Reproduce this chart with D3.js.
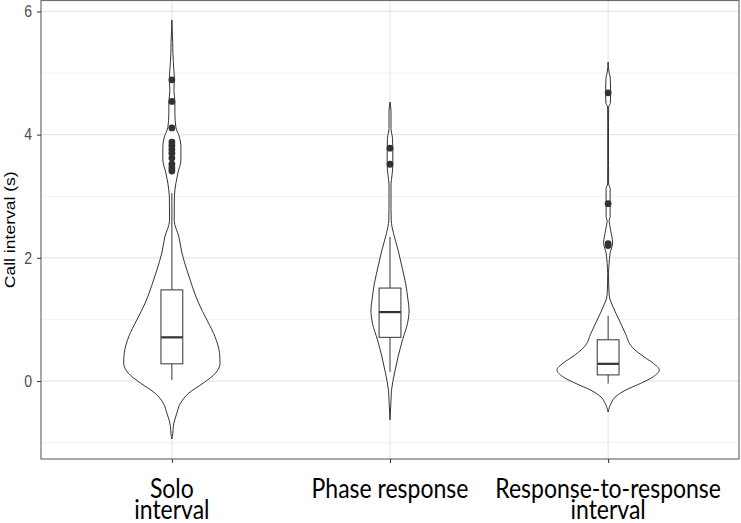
<!DOCTYPE html>
<html>
<head>
<meta charset="utf-8">
<script src="https://cdn.jsdelivr.net/npm/d3@7"></script>
<style>
  body { margin: 0; background: #fff; }
</style>
</head>
<body>
<div id="chart"></div>
<script>
// categories and axis ticks
const categories = ["Solo interval", "Phase response", "Response-to-response interval"];
const labelLines = [["Solo", "interval"], ["Phase response"], ["Response-to-response", "interval"]];
const yTicks = [0, 2, 4, 6];
const yMinorTicks = [-1, 1, 3, 5];

// violin outlines: value (s) and relative half width
const soloValues  = [5.86, 5.5, 5.32, 5.05, 4.89, 4.72, 4.53, 4.35, 4.12, 3.96, 3.8, 3.59, 3.38, 3.21, 2.99, 2.61, 2.34, 2.08, 1.8, 1.53, 1.27, 0.99, 0.72, 0.45, 0.29, 0.13, -0.03, -0.2, -0.36, -0.52, -0.68, -0.9, -0.94];
const soloDensity = [0, 0.008, 0.01, 0.02, 0.025, 0.02, 0.03, 0.03, 0.04, 0.075, 0.09, 0.09, 0.06, 0.04, 0.025, 0.023, 0.07, 0.1, 0.15, 0.205, 0.265, 0.35, 0.43, 0.475, 0.48, 0.435, 0.315, 0.165, 0.085, 0.05, 0.02, 0.005, 0];

const phaseValues  = [4.53, 4.37, 4.1, 3.94, 3.78, 3.52, 3.34, 3.2, 2.8, 2.61, 2.4, 2.13, 1.85, 1.59, 1.31, 1.15, 0.94, 0.67, 0.39, 0.13, -0.15, -0.31, -0.63];
const phaseDensity = [0, 0.01, 0.01, 0.025, 0.028, 0.028, 0.02, 0.01, 0.01, 0.012, 0.035, 0.08, 0.12, 0.155, 0.18, 0.19, 0.175, 0.125, 0.08, 0.045, 0.015, 0.01, 0];

const responseValues  = [5.18, 5.0, 4.94, 4.84, 4.68, 4.51, 4.45, 4.2, 3.5, 3.2, 3.13, 2.99, 2.66, 2.61, 2.45, 2.24, 2.08, 1.91, 1.75, 1.4, 1.2, 0.99, 0.78, 0.55, 0.39, 0.29, 0.18, 0.07, -0.04, -0.15, -0.26, -0.36, -0.5];
const responseDensity = [0, 0.01, 0.02, 0.023, 0.025, 0.022, 0.005, 0.004, 0.004, 0.005, 0.02, 0.02, 0.02, 0.01, 0.025, 0.045, 0.02, 0.01, 0.004, 0.01, 0.05, 0.11, 0.17, 0.24, 0.36, 0.45, 0.51, 0.45, 0.32, 0.17, 0.07, 0.03, 0];

// box stats: lower whisker, q1, median, q3, upper whisker
const soloBox     = [0.02, 0.28, 0.71, 1.48, 3.05];
const phaseBox    = [0.15, 0.71, 1.12, 1.51, 2.34];
const responseBox = [-0.04, 0.1, 0.28, 0.67, 1.06];

// outlier points
const soloOutliers     = [4.89, 4.54, 4.11, 3.88, 3.82, 3.76, 3.7, 3.62, 3.52, 3.46, 3.41];
const phaseOutliers    = [3.78, 3.52];
const responseOutliers = [4.68, 2.88, 2.23, 2.2];

const groups = [
    {name: categories[0], values: soloValues, density: soloDensity, box: soloBox, outliers: soloOutliers},
    {name: categories[1], values: phaseValues, density: phaseDensity, box: phaseBox, outliers: phaseOutliers},
    {name: categories[2], values: responseValues, density: responseDensity, box: responseBox, outliers: responseOutliers}
];

const width = 741, height = 523;
const panel = {left: 41, top: 0.5, right: 739, bottom: 459};
const ink = "#333333";
// the original picture is a bit taller than wide, so text gets stretched too
const stretch = 1.17;

const svg = d3.select("#chart").append("svg")
    .attr("width", width)
    .attr("height", height);

// scales
const x = d3.scalePoint()
    .domain(categories)
    .range([panel.left, panel.right])
    .padding(0.6);

const y = d3.scaleLinear()
    .domain([-1.265, 6.178])
    .range([panel.bottom, panel.top]);

const w = d3.scaleLinear()
    .domain([0, 1])
    .range([0, x.step() * 0.46]);

// grid lines
svg.append("g").selectAll("line")
    .data(yMinorTicks)
    .join("line")
    .attr("x1", panel.left).attr("x2", panel.right)
    .attr("y1", d => y(d)).attr("y2", d => y(d))
    .attr("stroke", "#f0f0f0").attr("stroke-width", 1);

svg.append("g").selectAll("line")
    .data(yTicks)
    .join("line")
    .attr("x1", panel.left).attr("x2", panel.right)
    .attr("y1", d => y(d)).attr("y2", d => y(d))
    .attr("stroke", "#e6e6e6").attr("stroke-width", 1.2);

svg.append("g").selectAll("line")
    .data(categories)
    .join("line")
    .attr("x1", d => x(d)).attr("x2", d => x(d))
    .attr("y1", panel.top).attr("y2", panel.bottom)
    .attr("stroke", "#e6e6e6").attr("stroke-width", 1.2);

// violins
const area = d3.area()
    .curve(d3.curveMonotoneY);

groups.forEach(g => {
    const cx = x(g.name);
    const pts = g.values.map((v, i) => [v, g.density[i]]);

    area.y(d => y(d[0]))
        .x0(d => cx - w(d[1]))
        .x1(d => cx + w(d[1]));

    svg.append("path")
        .datum(pts)
        .attr("d", area)
        .attr("fill", "#fff")
        .attr("stroke", ink)
        .attr("stroke-width", 1);

    // box plot
    const bw = x.step() * 0.1;
    const [lo, q1, med, q3, hi] = g.box;

    svg.append("line")
        .attr("x1", cx).attr("x2", cx)
        .attr("y1", y(q3)).attr("y2", y(hi))
        .attr("stroke", ink).attr("stroke-width", 1);

    svg.append("line")
        .attr("x1", cx).attr("x2", cx)
        .attr("y1", y(q1)).attr("y2", y(lo))
        .attr("stroke", ink).attr("stroke-width", 1);

    svg.append("rect")
        .attr("x", cx - bw / 2)
        .attr("y", y(q3))
        .attr("width", bw)
        .attr("height", y(q1) - y(q3))
        .attr("fill", "#fff")
        .attr("stroke", ink)
        .attr("stroke-width", 1);

    svg.append("line")
        .attr("x1", cx - bw / 2).attr("x2", cx + bw / 2)
        .attr("y1", y(med)).attr("y2", y(med))
        .attr("stroke", ink).attr("stroke-width", 2.2);

    // outliers
    svg.append("g").selectAll("circle")
        .data(g.outliers)
        .join("circle")
        .attr("cx", cx)
        .attr("cy", d => y(d))
        .attr("r", 3.4)
        .attr("fill", ink);
});

// panel border
svg.append("rect")
    .attr("x", panel.left)
    .attr("y", panel.top)
    .attr("width", panel.right - panel.left)
    .attr("height", panel.bottom - panel.top)
    .attr("fill", "none")
    .attr("stroke", "#6e6e6e")
    .attr("stroke-width", 1.2);

// y axis
const yAxis = svg.append("g")
    .attr("transform", `translate(${panel.left},0)`)
    .call(d3.axisLeft(y).tickValues(yTicks).tickSize(4).tickPadding(5));
yAxis.select(".domain").remove();
yAxis.selectAll(".tick line").attr("stroke", ink);
yAxis.selectAll(".tick text")
    .attr("fill", "#4d4d4d")
    .attr("transform", `scale(1,${stretch})`)
    .style("font-family", "'Liberation Sans', Arial, sans-serif")
    .style("font-size", "14px");

svg.append("text")
    .attr("transform", `translate(15,${(panel.top + panel.bottom) / 2}) scale(1,${stretch}) rotate(-90)`)
    .attr("text-anchor", "middle")
    .style("font-family", "'Liberation Sans', Arial, sans-serif")
    .style("font-size", "15px")
    .attr("fill", "#000")
    .text("Call interval (s)");

// x axis
const xAxis = svg.append("g")
    .attr("transform", `translate(0,${panel.bottom})`)
    .call(d3.axisBottom(x).tickSize(4).tickFormat(""));
xAxis.select(".domain").remove();
xAxis.selectAll(".tick line").attr("stroke", ink);

const xLabels = svg.append("g").selectAll("text")
    .data(categories)
    .join("text")
    .attr("transform", d => `translate(${x(d)},497.5) scale(1,${stretch})`)
    .attr("text-anchor", "middle")
    .style("font-family", "Lato, 'Open Sans', sans-serif")
    .style("font-size", "23px")
    .attr("fill", "#000");

xLabels.selectAll("tspan")
    .data((d, i) => labelLines[i])
    .join("tspan")
    .attr("x", 0)
    .attr("dy", (d, i) => i === 0 ? 0 : 18)
    .text(d => d);
</script>
</body>
</html>
